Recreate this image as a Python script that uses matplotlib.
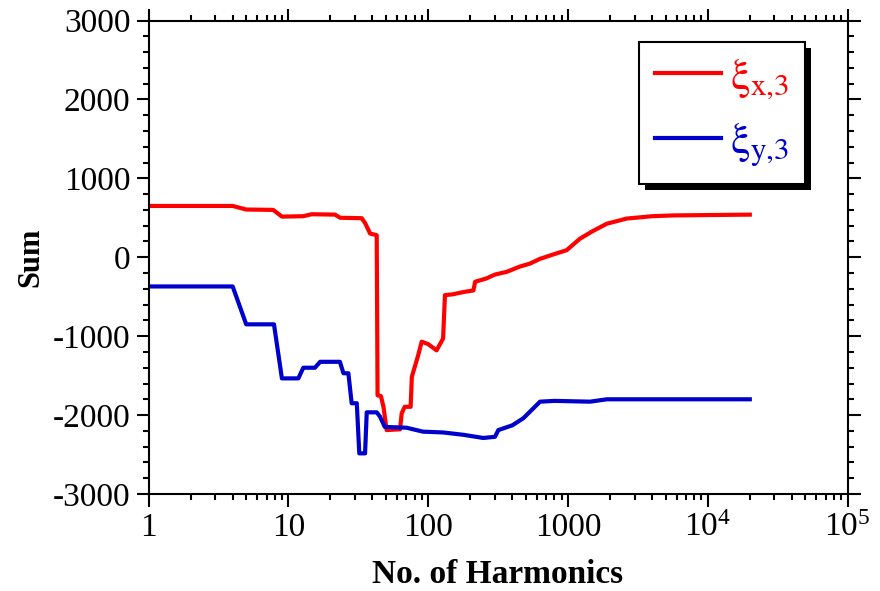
import matplotlib
matplotlib.use("Agg")
import matplotlib.pyplot as plt
from matplotlib.ticker import FixedLocator, LogLocator, MultipleLocator, FuncFormatter
from matplotlib.patches import Rectangle

plt.rcParams['font.family'] = ['Liberation Serif', 'DejaVu Serif']
plt.rcParams['axes.unicode_minus'] = False

# xi_x,3 partial sums
harm_x = [1, 4, 5, 7.8, 9, 12.8, 14.7, 21.6, 23.5, 33.5, 35.5, 38.5, 42.9, 43.5, 46, 48,
          50.5, 63, 64.7, 68, 75, 76.5, 85, 90, 100, 115, 128, 132, 150, 180, 211, 217,
          260, 300, 365, 450, 536, 632, 800, 980, 1220, 1500, 1900, 2630, 4000, 5670, 20000]
sum_x = [650, 650, 605, 600, 515, 520, 545, 540, 500, 495, 430, 300, 280, -1750, -1760, -1900,
         -2190, -2180, -1980, -1895, -1895, -1515, -1240, -1070, -1100, -1180, -1030, -480, -470,
         -440, -420, -310, -270, -220, -185, -120, -80, -20, 40, 90, 235, 330, 425, 490, 520,
         530, 540]

# xi_y,3 partial sums
harm_y = [1, 4, 5, 7.9, 9, 11.8, 12.8, 15.5, 16.9, 23.4, 24.8, 26.9, 28.4, 30.9, 32.2,
          35.4, 36.4, 42.9, 45.3, 49, 70, 92, 128, 179, 248, 301, 318, 400, 480, 632, 800,
          1440, 1900, 20000]
sum_y = [-370, -370, -850, -850, -1535, -1535, -1400, -1400, -1325, -1325, -1470, -1470,
         -1850, -1850, -2485, -2485, -1965, -1965, -2020, -2150, -2160, -2210, -2220, -2250,
         -2290, -2275, -2190, -2130, -2040, -1830, -1820, -1830, -1800, -1800]

x_ticks = [1, 10, 100, 1000, 1e4, 1e5]
x_tick_labels = ['1', '10', '100', '1000', r'$\mathregular{10^4}$', r'$\mathregular{10^5}$']

fig = plt.figure(figsize=(8.8, 5.91), dpi=100)
ax = fig.add_axes([148.5 / 880, 1 - 494 / 591, 699 / 880, 473.5 / 591])

ax.plot(harm_x, sum_x, color='#ff0000', lw=3, label=r'ξ$\mathregular{_{x{,}3}}$')
ax.plot(harm_y, sum_y, color='#0000cc', lw=3, label=r'ξ$\mathregular{_{y{,}3}}$')

ax.set_xscale('log')
ax.set_xlim(1, 1e5)
ax.set_ylim(-3000, 3000)
ax.xaxis.set_major_locator(FixedLocator(x_ticks))
ax.xaxis.set_major_formatter(FuncFormatter(lambda v, p: x_tick_labels[x_ticks.index(v)] if v in x_ticks else ''))
ax.xaxis.set_minor_locator(LogLocator(base=10, subs=range(2, 10)))
ax.xaxis.set_minor_formatter(FuncFormatter(lambda v, p: ''))
ax.yaxis.set_major_locator(MultipleLocator(1000))
ax.yaxis.set_minor_locator(MultipleLocator(200))

for s in ax.spines.values():
    s.set_linewidth(1.5)
ax.tick_params(which='both', direction='out', top=True, right=True, width=1.5,
               labelsize=24, pad=4)
ax.tick_params(which='major', length=9)
ax.tick_params(which='minor', length=4.5)

ax.set_xlabel('No. of Harmonics', fontsize=24, fontweight='bold', labelpad=12)
ax.set_ylabel('Sum', fontsize=22, fontweight='bold', labelpad=5)

leg = ax.legend(loc='upper right', bbox_to_anchor=(805 / 880, 1 - 42 / 591),
                bbox_transform=fig.transFigure, borderaxespad=0,
                prop={'family': 'STIXGeneral', 'size': 32},
                labelcolor='linecolor', fancybox=False, edgecolor='black',
                framealpha=1, handlelength=1.5, handletextpad=0.2,
                labelspacing=0.45, borderpad=0.35)
leg.get_frame().set_linewidth(1.5)
leg.set_zorder(6)

fig.canvas.draw()
bb = leg.get_window_extent().transformed(fig.transFigure.inverted())
shadow = Rectangle((bb.x0 + 6 / 880, bb.y0 - 6 / 591), bb.width, bb.height,
                   transform=fig.transFigure, facecolor='black', edgecolor='none',
                   zorder=5.9, clip_on=False)
ax.add_artist(shadow)

fig.savefig('out.png', dpi=100)
